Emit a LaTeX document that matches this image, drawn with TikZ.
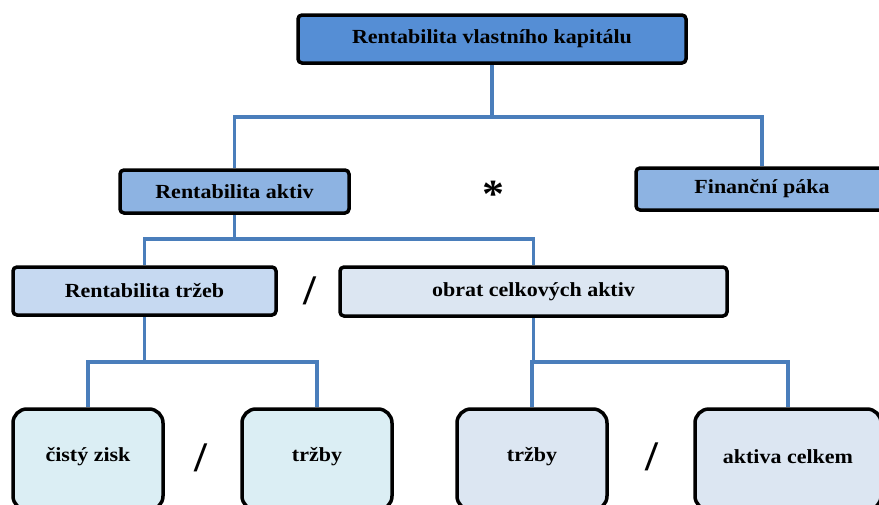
\documentclass[tikz,border=0pt]{standalone}
\usepackage{fontspec}
\setmainfont{Liberation Serif}[FakeStretch=1.1]
\usetikzlibrary{backgrounds}
\definecolor{cTop}{HTML}{558ED5}
\definecolor{cMid}{HTML}{8DB3E2}
\definecolor{cRt}{HTML}{C6D9F1}
\definecolor{cOca}{HTML}{DCE6F2}
\definecolor{cLeaf}{HTML}{DBEEF4}
\definecolor{cLine}{HTML}{4A7EBB}
\tikzset{
  box/.style={draw=black, line width=3.5pt, rounded corners=4pt, inner sep=0pt,
    font=\fontsize{20}{24}\selectfont\bfseries, text=black},
  leaf/.style={box, rounded corners=14pt},
  conn/.style={draw=cLine, line width=3.2pt},
  op/.style={inner sep=0pt, text=black},
  lbl/.style={op, font=\fontsize{20}{24}\selectfont\bfseries},
  slash/.style={op, font=\fontsize{42}{46}\selectfont\bfseries}
}
\begin{document}
\begin{tikzpicture}[x=1pt,y=-1pt]
\useasboundingbox (0,0) rectangle (879,504);
\clip (0,0) rectangle (879,504);
% boxes
\node[box, fill=cTop, minimum width=388pt, minimum height=48pt] (top) at (492,39) {Rentabilita vlastního kapitálu};
\node[box, fill=cMid, minimum width=229pt, minimum height=43pt] (ra) at (234.5,191.5) {Rentabilita aktiv};
\node[box, fill=cMid, minimum width=252pt, minimum height=42pt] (fp) at (762,189) {Finanční páka};
\node[box, fill=cRt, minimum width=263pt, minimum height=48pt] (rt) at (144.5,291) {Rentabilita tržeb};
\node[box, fill=cOca, minimum width=387pt, minimum height=49pt] (oca) at (533.5,291.5) {obrat celkových aktiv};
% leaves (extend below the picture edge)
\node[leaf, fill=cLeaf, minimum width=150pt, minimum height=101pt] (cz) at (88,459.5) {};
\node[leaf, fill=cLeaf, minimum width=150pt, minimum height=101pt] (trl) at (317,459.5) {};
\node[leaf, fill=cOca, minimum width=150pt, minimum height=101pt] (trr) at (532,459.5) {};
\node[leaf, fill=cOca, minimum width=186pt, minimum height=101pt] (ac) at (788,459.5) {};
\node[lbl] (czt) at (88,457) {čistý zisk};
\node[lbl] (trlt) at (317,457) {tržby};
\node[lbl] (trrt) at (532,457) {tržby};
\node[lbl] (act) at (788,457) {aktiva celkem};
% operators
\node[op, font=\fontsize{40}{44}\selectfont\bfseries] (star) at (493,194) {*};
\node[slash] (s1) at (310,291) {/};
\node[slash] (s2) at (201,458) {/};
\node[slash] (s3) at (652,457) {/};
% connectors
\coordinate (h1) at (492,117);
\coordinate (h2) at (234.5,239);
\coordinate (h3) at (144.5,362);
\coordinate (h4) at (533.5,362);
\begin{scope}[on background layer]
\draw[conn] (top.south) -- (h1);
\draw[conn] (ra.north) |- (h1) -| (fp.north);
\draw[conn] (ra.south) -- (h2);
\draw[conn] (rt.north) |- (h2) -| (oca.north);
\draw[conn] (rt.south) -- (h3);
\draw[conn] (cz.north) |- (h3) -| (trl.north);
\draw[conn] (oca.south) -- (h4);
\draw[conn] (trr.north) |- (h4) -| (ac.north);
\end{scope}
\end{tikzpicture}
\end{document}
